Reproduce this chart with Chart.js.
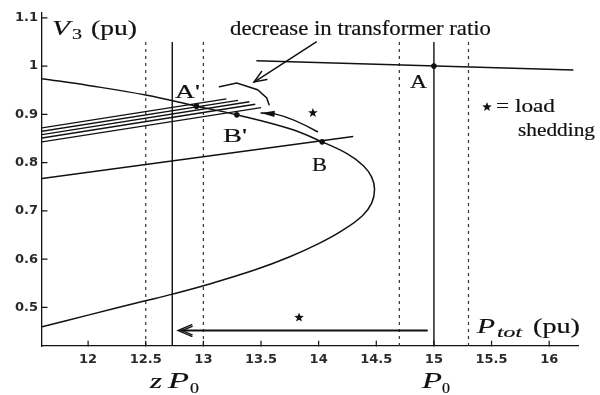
<!DOCTYPE html>
<html><head><meta charset="utf-8">
<script src="https://cdn.jsdelivr.net/npm/chart.js@4.4.1/dist/chart.umd.min.js"></script>
<style>html,body{margin:0;padding:0;background:#fff}#wrap{width:600px;height:395px;position:relative}</style>
</head><body><div id="wrap"><canvas id="c"></canvas></div>
<script>
// Network PV curve: upper branch through A', B', B, round the nose, back along the lower branch
const pvCurveP = [11.6, 12.0, 12.5, 12.94, 13.29, 13.75, 14.03, 14.25, 14.39, 14.46, 14.485, 14.46, 14.38, 14.21, 14.0, 13.75, 13.45, 13.03, 12.74, 12.47, 12.0, 11.6];
const pvCurveV = [0.974, 0.960, 0.940, 0.917, 0.899, 0.870, 0.843, 0.818, 0.793, 0.770, 0.745, 0.716, 0.690, 0.660, 0.632, 0.605, 0.578, 0.547, 0.528, 0.512, 0.484, 0.460];

// Load characteristics (before / after the disturbance)
const loadHighP = [13.46, 16.21];
const loadHighV = [1.011, 0.992];
const loadLowP = [11.6, 14.3];
const loadLowV = [0.767, 0.854];

// Load characteristics for successive transformer ratio steps
const tapStartP = [11.6, 11.6, 11.6, 11.6, 11.6];
const tapStartV = [0.872, 0.865, 0.858, 0.851, 0.843];
const tapEndP = [13.2, 13.3, 13.4, 13.45, 13.5];
const tapEndV = [0.932, 0.929, 0.926, 0.921, 0.914];

// Vertical reference powers
const solidP = [12.73, 15.0];          // z P0 and P0
const dashedP = [12.5, 13.0, 14.7, 15.3];
const verticalSpanV = [0.42, 1.05];

// Operating points
const pointNames = ["A", "A'", "B'", "B"];
const pointP = [15.0, 12.94, 13.29, 14.03];
const pointV = [1.0, 0.917, 0.899, 0.843];

// Annotation arrows
const ratioArrowP = [13.98, 13.44];
const ratioArrowV = [1.05, 0.967];
const bracketP = [13.14, 13.29, 13.47, 13.55, 13.57];
const bracketV = [0.957, 0.965, 0.951, 0.934, 0.920];
const shedArrowP = [13.99, 13.77, 13.62, 13.5];
const shedArrowV = [0.864, 0.893, 0.901, 0.903];
const bottomArrowP = [14.94, 12.78];
const bottomArrowV = [0.452, 0.452];
const starP = [13.95, 13.83];
const starV = [0.903, 0.479];

// Axis ticks
const xTicks = [12, 12.5, 13, 13.5, 14, 14.5, 15, 15.5, 16];
const yTicks = [0.5, 0.6, 0.7, 0.8, 0.9, 1, 1.1];

const INK = '#111';
const pts = (ps, vs) => ps.map((p, i) => ({x: p, y: vs[i]}));

const datasets = [];
datasets.push({data: pts(pvCurveP, pvCurveV), showLine: true, tension: 0.4, borderColor: INK, borderWidth: 1.5, pointRadius: 0});
datasets.push({data: pts(loadHighP, loadHighV), showLine: true, borderColor: INK, borderWidth: 1.4, pointRadius: 0});
datasets.push({data: pts(loadLowP, loadLowV), showLine: true, borderColor: INK, borderWidth: 1.4, pointRadius: 0});
tapStartP.forEach((p, i) => datasets.push({
  data: [{x: p, y: tapStartV[i]}, {x: tapEndP[i], y: tapEndV[i]}],
  showLine: true, borderColor: INK, borderWidth: 1.4, pointRadius: 0
}));
solidP.forEach(p => datasets.push({
  data: verticalSpanV.map(v => ({x: p, y: v})), showLine: true, borderColor: INK, borderWidth: 1.4, pointRadius: 0
}));
dashedP.forEach(p => datasets.push({
  data: verticalSpanV.map(v => ({x: p, y: v})), showLine: true, borderColor: '#333', borderWidth: 1.2, borderDash: [3, 4], pointRadius: 0
}));
datasets.push({data: pts(pointP, pointV), showLine: false, pointRadius: 2.8, backgroundColor: INK, borderColor: INK, borderWidth: 0});

function star(ctx, cx, cy, r) {
  ctx.beginPath();
  for (let k = 0; k < 10; k++) {
    const rr = k % 2 ? r * 0.42 : r;
    const a = -Math.PI / 2 + k * Math.PI / 5;
    ctx.lineTo(cx + rr * Math.cos(a), cy + rr * Math.sin(a));
  }
  ctx.closePath();
  ctx.fill();
}
function head(ctx, tx, ty, fx, fy, len, ang, filled) {
  const a = Math.atan2(ty - fy, tx - fx);
  const p1 = [tx - len * Math.cos(a - ang), ty - len * Math.sin(a - ang)];
  const p2 = [tx - len * Math.cos(a + ang), ty - len * Math.sin(a + ang)];
  ctx.beginPath();
  ctx.moveTo(p1[0], p1[1]); ctx.lineTo(tx, ty); ctx.lineTo(p2[0], p2[1]);
  if (filled) { ctx.closePath(); ctx.fill(); } else ctx.stroke();
}
// serif text, stretched to a given width and slightly thickened
function txt(ctx, s, x, y, font, width) {
  ctx.font = font;
  const w = ctx.measureText(s).width;
  const sx = width ? width / w : 1;
  ctx.save(); ctx.translate(x, y); ctx.scale(sx, 1);
  ctx.fillText(s, 0, 0);
  ctx.lineWidth = 0.2; ctx.strokeText(s, 0, 0);
  ctx.restore();
}

const decor = {
  id: 'decor',
  afterDatasetsDraw(chart) {
    const ctx = chart.ctx, xs = chart.scales.x, ys = chart.scales.y, area = chart.chartArea;
    const X = v => xs.getPixelForValue(v), Y = v => ys.getPixelForValue(v);
    ctx.save();
    ctx.strokeStyle = INK; ctx.fillStyle = INK; ctx.lineWidth = 1.2; ctx.lineCap = 'round';
    // inward tick marks
    xTicks.forEach(v => { ctx.beginPath(); ctx.moveTo(X(v), area.bottom); ctx.lineTo(X(v), area.bottom - 5); ctx.stroke(); });
    yTicks.forEach(v => { ctx.beginPath(); ctx.moveTo(area.left, Y(v)); ctx.lineTo(area.left + 5, Y(v)); ctx.stroke(); });

    // arrow for the decrease in transformer ratio
    ctx.lineWidth = 1.5;
    ctx.beginPath(); ctx.moveTo(X(ratioArrowP[0]), Y(ratioArrowV[0])); ctx.lineTo(X(ratioArrowP[1]), Y(ratioArrowV[1])); ctx.stroke();
    head(ctx, X(ratioArrowP[1]), Y(ratioArrowV[1]), X(ratioArrowP[0]), Y(ratioArrowV[0]), 13, 0.38, false);
    // bracket over the family of load lines
    ctx.beginPath();
    bracketP.forEach((p, i) => ctx.lineTo(X(p), Y(bracketV[i])));
    ctx.stroke();
    // curved load shedding arrow
    ctx.beginPath();
    ctx.moveTo(X(shedArrowP[0]), Y(shedArrowV[0]));
    ctx.quadraticCurveTo(X(shedArrowP[1]), Y(shedArrowV[1]), X(shedArrowP[2]), Y(shedArrowV[2]));
    ctx.lineTo(X(shedArrowP[3]), Y(shedArrowV[3]));
    ctx.stroke();
    head(ctx, X(shedArrowP[3]), Y(shedArrowV[3]), X(shedArrowP[2]), Y(shedArrowV[2]), 14, 0.22, true);
    // horizontal load shedding arrow
    ctx.lineWidth = 1.9;
    ctx.beginPath(); ctx.moveTo(X(bottomArrowP[0]), Y(bottomArrowV[0])); ctx.lineTo(X(bottomArrowP[1]) + 3, Y(bottomArrowV[1])); ctx.stroke();
    ctx.lineWidth = 1.4;
    head(ctx, X(bottomArrowP[1]), Y(bottomArrowV[1]), X(bottomArrowP[0]), Y(bottomArrowV[0]), 15, 0.4, false);
    head(ctx, X(bottomArrowP[1]) + 4, Y(bottomArrowV[1]), X(bottomArrowP[0]), Y(bottomArrowV[0]), 11, 0.4, false);
    // stars
    starP.forEach((p, i) => star(ctx, X(p), Y(starV[i]), 5));
    star(ctx, 487, 107, 5);

    // texts
    ctx.textBaseline = 'alphabetic'; ctx.textAlign = 'left';
    const serif = '"Liberation Serif", "Times New Roman", serif';
    txt(ctx, 'V', 52, 35, `italic 20px ${serif}`, 18);
    txt(ctx, '3', 72, 39, `14px ${serif}`, 10);
    txt(ctx, '(pu)', 91, 35, `20px ${serif}`, 46);
    txt(ctx, 'decrease in transformer ratio', 230, 35, `21px ${serif}`, 261);
    txt(ctx, "A'", 175, 98, `19px ${serif}`, 25);
    txt(ctx, 'A', 410, 88, `19px ${serif}`, 17);
    txt(ctx, "B'", 223, 142, `19px ${serif}`, 24);
    txt(ctx, 'B', 312, 171, `19px ${serif}`, 15);
    txt(ctx, '= load', 496, 112, `19px ${serif}`, 59);
    txt(ctx, 'shedding', 518, 136, `19px ${serif}`, 77);
    txt(ctx, 'P', 477, 333, `italic 22px ${serif}`, 18);
    txt(ctx, 'tot', 497, 337, `italic 14px ${serif}`, 25);
    txt(ctx, '(pu)', 533, 333, `20px ${serif}`, 47);
    txt(ctx, 'z', 150, 388, `italic 22px ${serif}`, 12);
    txt(ctx, 'P', 168, 388, `italic 23px ${serif}`, 21);
    txt(ctx, '0', 190, 393, `15px ${serif}`, 9);
    txt(ctx, 'P', 422, 388, `italic 23px ${serif}`, 20);
    txt(ctx, '0', 442, 393, `15px ${serif}`, 8);
    ctx.restore();
  }
};

const tickFont = {family: '"DejaVu Sans", Arial, sans-serif', size: 13, weight: 'bold'};
new Chart(document.getElementById('c'), {
  type: 'scatter',
  data: {datasets},
  options: {
    responsive: true, maintainAspectRatio: false, animation: false,
    layout: {padding: {left: 0, top: 13, right: 22, bottom: 0}},
    plugins: {legend: {display: false}, tooltip: {enabled: false}},
    scales: {
      x: {
        type: 'linear', min: 11.6, max: 16.25,
        afterBuildTicks: s => { s.ticks = xTicks.map(v => ({value: v})); },
        afterFit: s => { s.height = 49; },
        grid: {display: false, drawTicks: false},
        border: {display: true, color: INK, width: 1.3},
        ticks: {autoSkip: false, maxRotation: 0, padding: 6, font: tickFont, color: '#2a2a2a', callback: v => String(v)}
      },
      y: {
        type: 'linear', min: 0.42, max: 1.11,
        afterBuildTicks: s => { s.ticks = yTicks.map(v => ({value: v})); },
        afterFit: s => { s.width = 42; },
        grid: {display: false, drawTicks: false},
        border: {display: true, color: INK, width: 1.3},
        ticks: {autoSkip: false, padding: 4, font: tickFont, color: '#2a2a2a', callback: v => String(v)}
      }
    }
  },
  plugins: [decor]
});
</script></body></html>
